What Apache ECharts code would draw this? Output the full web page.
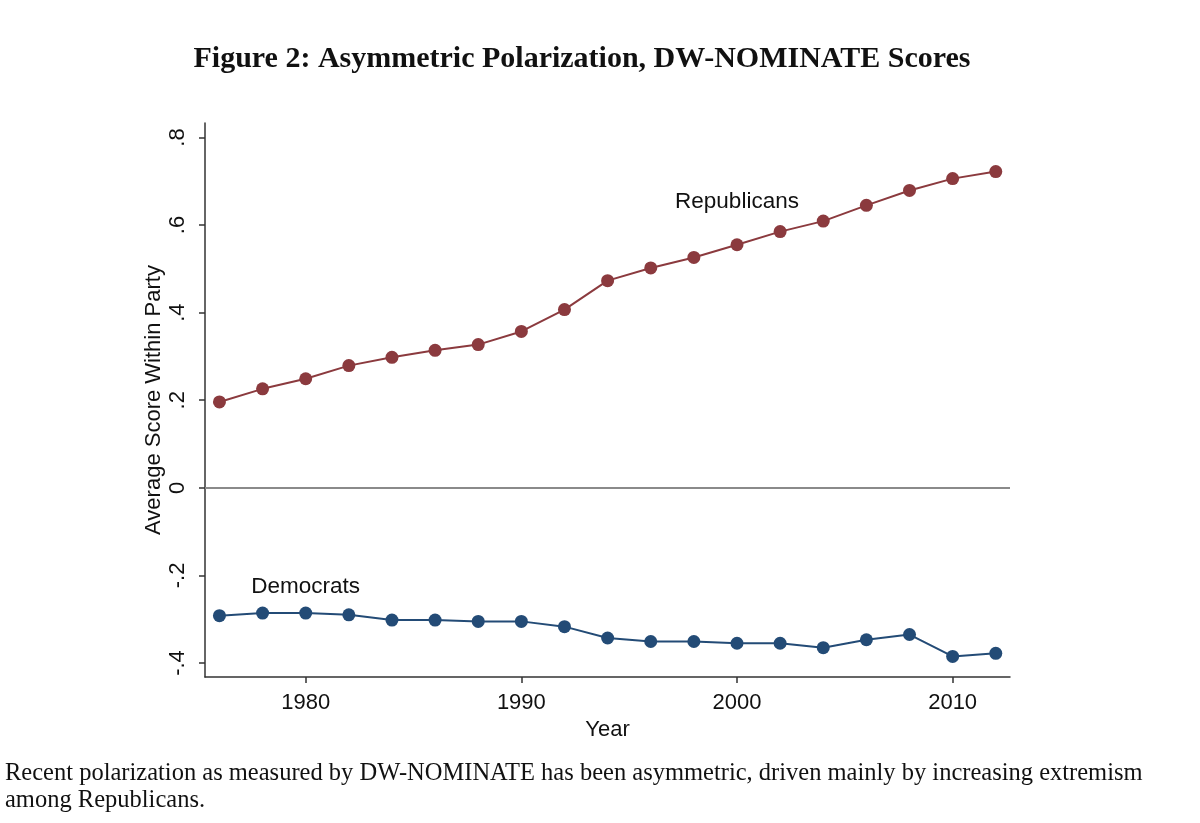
<!DOCTYPE html>
<html>
<head>
<meta charset="utf-8">
<script src="https://cdn.jsdelivr.net/npm/echarts@6/dist/echarts.min.js"></script>
<style>
html,body{margin:0;padding:0;background:#fff;}
#chart{width:1200px;height:823px;}
</style>
</head>
<body>
<div id="chart"></div>
<script>
const years = [1976,1978,1980,1982,1984,1986,1988,1990,1992,1994,1996,1998,2000,2002,2004,2006,2008,2010,2012];
const republicans = [0.196,0.226,0.249,0.279,0.298,0.314,0.327,0.357,0.407,0.473,0.502,0.526,0.555,0.585,0.609,0.645,0.679,0.706,0.722];
const democrats = [-0.292,-0.286,-0.286,-0.290,-0.302,-0.302,-0.305,-0.305,-0.317,-0.343,-0.351,-0.351,-0.355,-0.355,-0.365,-0.347,-0.335,-0.385,-0.378];
const xTicks = [1980,1990,2000,2010];
const yTicks = [-0.4,-0.2,0,0.2,0.4,0.6,0.8];
const titleText = 'Figure 2: Asymmetric Polarization, DW-NOMINATE Scores';
const captionText = 'Recent polarization as measured by DW-NOMINATE has been asymmetric, driven mainly by increasing extremism\namong Republicans.';

function fmtY(v){
  if (Math.abs(v) < 1e-9) return '0';
  const s = (Math.round(v*10)/10).toString();
  return s.replace(/^(-?)0\./, '$1.');
}

const chart = echarts.init(document.getElementById('chart'), null, {renderer:'canvas'});
const axisColor = '#333';
const labelFont = {fontFamily:'Liberation Sans, Arial, sans-serif', fontSize:22, color:'#111'};

chart.setOption({
  backgroundColor:'#fff',
  animation:false,
  title:[{
    text:titleText, left:577, textAlign:'center', top:39,
    textStyle:{fontFamily:'Liberation Serif, serif', fontWeight:'bold', fontSize:30, color:'#111'}
  }],
  graphic:[{
    type:'text', left:5, top:760,
    style:{text:captionText, font:'24.5px "Liberation Serif", serif', fill:'#111', lineHeight:27}
  }],
  grid:{left:205, right:190, top:123, bottom:146, containLabel:false},
  xAxis:{
    type:'value', min:1975.33, max:2012.66,
    name:'Year', nameLocation:'middle', nameGap:40,
    nameTextStyle:labelFont,
    axisLine:{show:true, onZero:false, lineStyle:{color:axisColor, width:1.5}},
    axisTick:{show:true, customValues:xTicks, length:6, lineStyle:{color:axisColor, width:1.5}},
    axisLabel:Object.assign({customValues:xTicks, margin:15, formatter:v=>String(v)}, labelFont),
    splitLine:{show:false}
  },
  yAxis:{
    type:'value', min:-0.432, max:0.833,
    name:'Average Score Within Party', nameLocation:'middle', nameGap:40,
    nameMoveOverlap:false,
    nameTextStyle:labelFont,
    axisLine:{show:true, onZero:false, lineStyle:{color:axisColor, width:1.5}},
    axisTick:{show:true, customValues:yTicks, length:6, lineStyle:{color:axisColor, width:1.5}},
    axisLabel:Object.assign({customValues:yTicks, rotate:90, margin:16, formatter:fmtY}, labelFont),
    splitLine:{show:false}
  },
  series:[
    {
      name:'Republicans', type:'line',
      data:years.map((y,i)=>[y, republicans[i]]),
      symbol:'circle', symbolSize:13,
      lineStyle:{color:'#8b3a3e', width:2},
      itemStyle:{color:'#8b3a3e'},
      markLine:{
        silent:true, symbol:['none','none'],
        lineStyle:{color:'#8a8a8a', width:2, type:'solid'},
        label:{show:false},
        data:[{yAxis:0}]
      },
      markPoint:{
        symbol:'circle', symbolSize:0,
        label:{show:true, formatter:'Republicans', fontFamily:'Liberation Sans, Arial, sans-serif', fontSize:22.5, color:'#111', position:'inside'},
        data:[{coord:[2000, 0.654]}]
      }
    },
    {
      name:'Democrats', type:'line',
      data:years.map((y,i)=>[y, democrats[i]]),
      symbol:'circle', symbolSize:13,
      lineStyle:{color:'#234b76', width:2},
      itemStyle:{color:'#234b76'},
      markPoint:{
        symbol:'circle', symbolSize:0,
        label:{show:true, formatter:'Democrats', fontFamily:'Liberation Sans, Arial, sans-serif', fontSize:22.5, color:'#111', position:'inside'},
        data:[{coord:[1980, -0.225]}]
      }
    }
  ]
});
</script>
</body>
</html>
